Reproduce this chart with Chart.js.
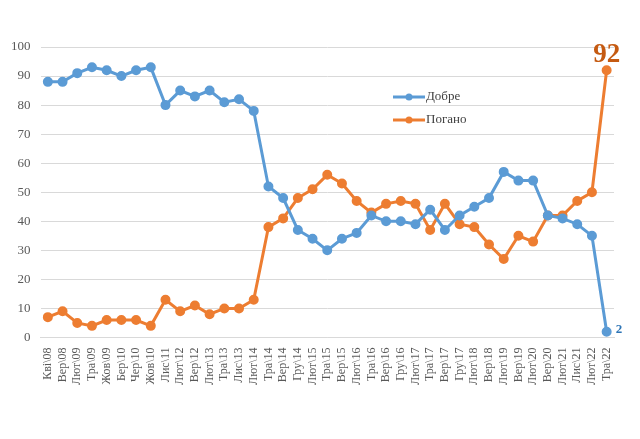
<!DOCTYPE html>
<html>
<head>
<meta charset="utf-8">
<script src="https://cdn.jsdelivr.net/npm/chart.js@4"></script>
<style>
  html, body { margin: 0; padding: 0; background: #fff; }
  #wrap { width: 640px; height: 439px; }
</style>
</head>
<body>
<div id="wrap"><canvas id="pollChart" width="640" height="439"></canvas></div>
<script>
var periods = ["Кві\\08", "Вер\\08", "Лют\\09", "Тра\\09", "Жов\\09", "Бер\\10", "Чер\\10", "Жов\\10",
  "Лис\\11", "Лют\\12", "Вер\\12", "Лют\\13", "Тра\\13", "Лис\\13", "Лют\\14", "Тра\\14", "Вер\\14",
  "Гру\\14", "Лют\\15", "Тра\\15", "Вер\\15", "Лют\\16", "Тра\\16", "Вер\\16", "Гру\\16", "Лют\\17",
  "Тра\\17", "Вер\\17", "Гру\\17", "Лют\\18", "Вер\\18", "Лют\\19", "Вер\\19", "Лют\\20", "Вер\\20",
  "Лют\\21", "Лис\\21", "Лют\\22", "Тра\\22"];
var good = [88, 88, 91, 93, 92, 90, 92, 93, 80, 85, 83, 85, 81, 82, 78, 52, 48, 37, 34, 30,
  34, 36, 42, 40, 40, 39, 44, 37, 42, 45, 48, 57, 54, 54, 42, 41, 39, 35, 2];
var bad = [7, 9, 5, 4, 6, 6, 6, 4, 13, 9, 11, 8, 10, 10, 13, 38, 41, 48, 51, 56,
  53, 47, 43, 46, 47, 46, 37, 46, 39, 38, 32, 27, 35, 33, 42, 42, 47, 50, 92];
var seriesNames = ["Добре", "Погано"];
var yTicks = [0, 10, 20, 30, 40, 50, 60, 70, 80, 90, 100];

var blue = "#5B9BD5";
var orange = "#ED7D31";
var serif = "'Liberation Serif', 'Times New Roman', serif";

// legend inside the plot + end labels
var extras = {
  id: "extras",
  afterDatasetsDraw: function (chart) {
    var ctx = chart.ctx;
    var ds = chart.data.datasets;
    ctx.save();
    // legend
    var lx = 393, ly = 97;
    ds.forEach(function (d, i) {
      var y = ly + i * 23;
      ctx.strokeStyle = d.borderColor;
      ctx.lineWidth = 3;
      ctx.beginPath();
      ctx.moveTo(lx, y);
      ctx.lineTo(lx + 32, y);
      ctx.stroke();
      ctx.fillStyle = d.borderColor;
      ctx.beginPath();
      ctx.arc(lx + 16, y, 3.5, 0, Math.PI * 2);
      ctx.fill();
      ctx.fillStyle = "#404040";
      ctx.font = "13px " + serif;
      ctx.textBaseline = "middle";
      ctx.textAlign = "left";
      ctx.fillText(d.label, lx + 33, y);
    });
    // last-point labels
    var last = periods.length - 1;
    var pb = chart.getDatasetMeta(1).data[last];
    ctx.fillStyle = "#C55A11";
    ctx.font = "bold 27px " + serif;
    ctx.textAlign = "center";
    ctx.textBaseline = "alphabetic";
    ctx.fillText(String(bad[last]), pb.x, pb.y - 8);
    var pg = chart.getDatasetMeta(0).data[last];
    ctx.fillStyle = "#2E75B6";
    ctx.font = "bold 13px " + serif;
    ctx.textAlign = "left";
    ctx.textBaseline = "middle";
    ctx.fillText(String(good[last]), pg.x + 9, pg.y - 2);
    ctx.restore();
  }
};

var chart = new Chart(document.getElementById("pollChart").getContext("2d"), {
  type: "line",
  data: {
    labels: periods,
    datasets: [
      {
        label: seriesNames[0],
        data: good,
        borderColor: blue,
        backgroundColor: blue,
        borderWidth: 3,
        pointRadius: 3.5,
        pointHoverRadius: 3.5,
        tension: 0
      },
      {
        label: seriesNames[1],
        data: bad,
        borderColor: orange,
        backgroundColor: orange,
        borderWidth: 3,
        pointRadius: 3.5,
        pointHoverRadius: 3.5,
        tension: 0
      }
    ]
  },
  options: {
    responsive: false,
    animation: false,
    layout: { padding: { left: 1, right: 26, top: 47, bottom: 52 } },
    plugins: {
      legend: { display: false },
      tooltip: { enabled: false }
    },
    scales: {
      x: {
        offset: true,
        grid: { display: false },
        border: { color: "#d9d9d9" },
        ticks: {
          color: "#595959",
          font: { family: serif, size: 12 },
          minRotation: 90,
          maxRotation: 90,
          autoSkip: false,
          padding: 2
        }
      },
      y: {
        min: 0,
        max: 100,
        afterBuildTicks: function (axis) {
          axis.ticks = yTicks.map(function (v) { return { value: v }; });
        },
        grid: { color: "#d9d9d9", drawTicks: false },
        border: { display: false },
        ticks: {
          color: "#595959",
          font: { family: serif, size: 13 },
          padding: 10
        }
      }
    }
  },
  plugins: [extras]
});
</script>
</body>
</html>
